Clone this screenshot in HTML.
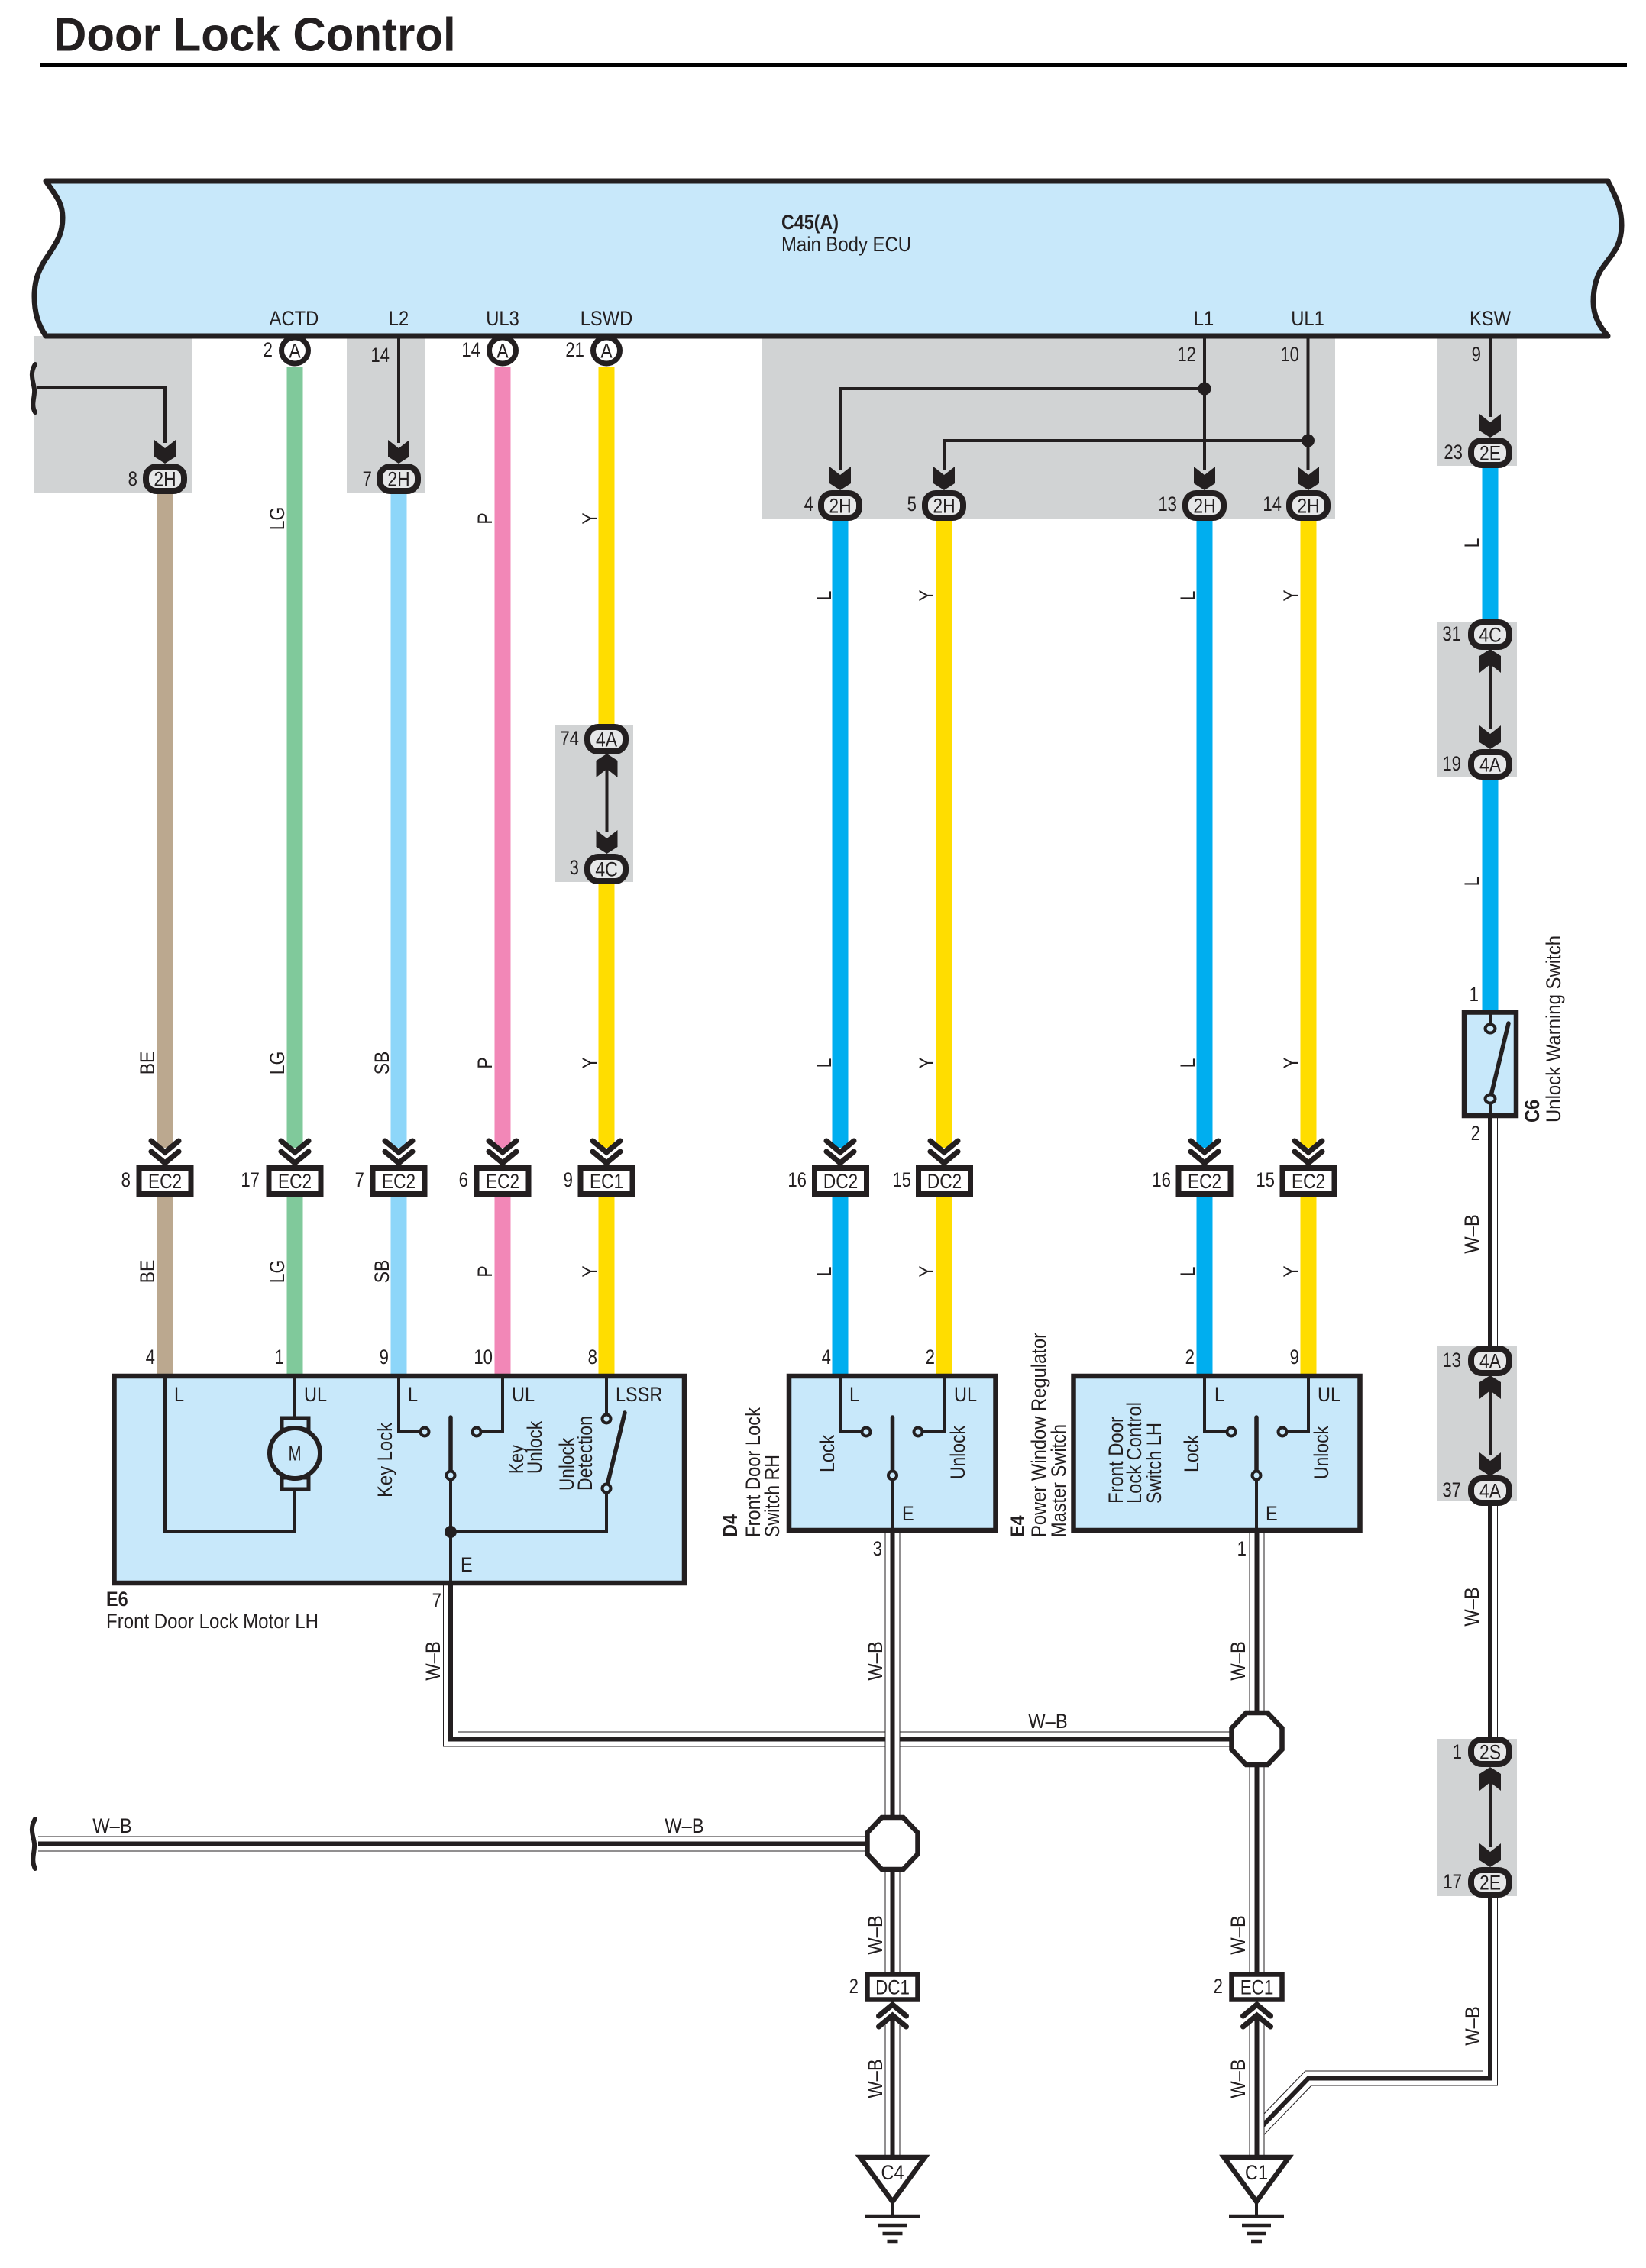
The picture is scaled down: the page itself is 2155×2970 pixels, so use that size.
<!DOCTYPE html>
<html><head><meta charset="utf-8"><title>Door Lock Control</title>
<style>
html,body{margin:0;padding:0;background:#fff}
svg{display:block}
text{font-family:"Liberation Sans",sans-serif;font-size:27px;fill:#231f20}
.c{text-anchor:middle}.e{text-anchor:end}.b{font-weight:bold}
.k{fill:none;stroke:#231f20;stroke-width:4}
.s{fill:none;stroke:#231f20;stroke-width:5.5}
.o{fill:none;stroke:#231f20;stroke-width:20}
.w{fill:none;stroke:#fff;stroke-width:18}
.m{fill:none;stroke:#231f20;stroke-width:6}
.box{fill:#c8e8fa;stroke:#231f20;stroke-width:6.5}
.pin{fill:#c8e8fa;stroke:#231f20;stroke-width:4}
.W{stroke-width:21;fill:none}
.g{fill:#d1d3d4}
</style></head><body>
<svg xmlns="http://www.w3.org/2000/svg" width="2155" height="2970" viewBox="0 0 2155 2970">
<defs>
<polygon id="ar" points="0,0 14,-9 14,-31 0,-20 -14,-31 -14,-9" fill="#231f20"/>
<rect id="ov" x="-25" y="-16" width="50" height="32" rx="14" fill="#e6e7e8" stroke="#231f20" stroke-width="8"/>
<rect id="ec" x="-34" y="-17" width="68" height="34" fill="#fff" stroke="#231f20" stroke-width="7"/>
<rect id="dc" x="-33" y="-16.5" width="66" height="33" fill="#fff" stroke="#231f20" stroke-width="6.5"/>
<g id="ch" fill="none" stroke="#231f20" stroke-width="7" stroke-linecap="round"><polyline points="-18,-32 0,-17 18,-32"/><polyline points="-18,-18 0,-3 18,-18"/></g>
<polygon id="oc" points="-14,-34 14,-34 33,-14 33,14 14,34 -14,34 -33,14 -33,-14" fill="#fff" stroke="#231f20" stroke-width="6.5"/>
<g id="gnd"><path d="M0,0V17" class="k"/><path d="M-36,17H36M-19,29H19M-13,40H13M-7,50H7" fill="none" stroke="#231f20" stroke-width="4.5"/></g>
</defs>

<text class="b" style="font-size:62px" transform="translate(70,66.5) scale(.968,1)">Door Lock Control</text>
<rect x="53" y="82" width="2077" height="6" fill="#000"/>

<!-- grey shaded boxes -->
<rect class="g" x="45" y="440" width="206" height="205"/>
<rect class="g" x="454" y="440" width="102" height="205"/>
<rect class="g" x="997" y="440" width="751" height="239"/>
<rect class="g" x="1882" y="440" width="104" height="170"/>
<rect class="g" x="726" y="950" width="103" height="205"/>
<rect class="g" x="1882" y="815" width="104" height="203"/>
<rect class="g" x="1882" y="1763" width="104" height="203"/>
<rect class="g" x="1882" y="2277" width="104" height="206"/>

<!-- ECU -->
<path d="M60,237H2105C2118,262 2123,275 2123,295C2123,325 2108,335 2095,355C2087,370 2086,385 2086,395C2086,415 2095,428 2105,440H60C50,425 45,410 45,388C45,365 52,350 64,333C76,315 82,305 82,285C82,265 72,255 60,237Z" fill="#c8e8fa" stroke="#231f20" stroke-width="7" stroke-linejoin="round"/>
<text class="b" x="1023" y="300" textLength="75" lengthAdjust="spacingAndGlyphs">C45(A)</text>
<text x="1023" y="329" textLength="170" lengthAdjust="spacingAndGlyphs">Main Body ECU</text>
<text class="c" transform="translate(385,426) scale(.88,1)">ACTD</text>
<text class="c" transform="translate(522,426) scale(.88,1)">L2</text>
<text class="c" transform="translate(658,426) scale(.88,1)">UL3</text>
<text class="c" transform="translate(794,426) scale(.88,1)">LSWD</text>
<text class="c" transform="translate(1576,426) scale(.88,1)">L1</text>
<text class="c" transform="translate(1712,426) scale(.88,1)">UL1</text>
<text class="c" transform="translate(1951,426) scale(.88,1)">KSW</text>

<!-- coloured wires -->
<path class="W" stroke="#bba88f" d="M216,647V1503M216,1567V1799"/>
<path class="W" stroke="#80c99b" d="M386,480V1503M386,1567V1799"/>
<path class="W" stroke="#8dd6f9" d="M522,647V1503M522,1567V1799"/>
<path class="W" stroke="#f287b7" d="M658,480V1503M658,1567V1799"/>
<path class="W" stroke="#ffdd00" d="M794,480V950M794,1158V1503M794,1567V1799"/>
<path class="W" stroke="#00aeef" d="M1100,682V1503M1100,1567V1799"/>
<path class="W" stroke="#ffdd00" d="M1236,682V1503M1236,1567V1799"/>
<path class="W" stroke="#00aeef" d="M1577,682V1503M1577,1567V1799"/>
<path class="W" stroke="#ffdd00" d="M1713,682V1503M1713,1567V1799"/>
<path class="W" stroke="#00aeef" d="M1951,613V812M1951,1021V1322"/>

<!-- thin black harness lines -->
<path class="k" d="M48,508H216V580"/>
<path d="M46,477C38,490 44,500 45,510C46,520 40,530 46,540" fill="none" stroke="#231f20" stroke-width="6" stroke-linecap="round"/>
<path class="k" d="M522,440V580"/>
<path class="k" d="M1577,440V615M1100,615V509H1577"/>
<path class="k" d="M1712.5,440V615M1236,615V577H1712.5"/>
<circle cx="1577" cy="509" r="8.5" fill="#231f20"/>
<circle cx="1712.5" cy="577" r="8.5" fill="#231f20"/>
<path class="k" d="M1951,440V546"/>
<path class="k" d="M794.5,990V1090M1951,853V955M1951,1804V1905M1951,2318V2419"/>

<use href="#ar" x="216" y="607"/><use href="#ar" x="522" y="607"/>
<use href="#ar" x="1100" y="642"/><use href="#ar" x="1236" y="642"/><use href="#ar" x="1577" y="642"/><use href="#ar" x="1713" y="642"/>
<use href="#ar" x="1951" y="573"/>
<use href="#ar" x="794.5" y="1118"/><use href="#ar" transform="translate(794.5,987) rotate(180)"/>
<use href="#ar" x="1951" y="981"/><use href="#ar" transform="translate(1951,850) rotate(180)"/>
<use href="#ar" x="1951" y="1933"/><use href="#ar" transform="translate(1951,1801) rotate(180)"/>
<use href="#ar" x="1951" y="2445"/><use href="#ar" transform="translate(1951,2314) rotate(180)"/>

<!-- A pins -->
<g fill="#fff" stroke="#231f20" stroke-width="7">
<ellipse cx="386" cy="459" rx="17.5" ry="17"/><ellipse cx="658" cy="459" rx="17.5" ry="17"/><ellipse cx="794" cy="459" rx="17.5" ry="17"/>
</g>
<text class="c" transform="translate(386,468.5) scale(.85,1)">A</text>
<text class="c" transform="translate(658,468.5) scale(.85,1)">A</text>
<text class="c" transform="translate(794,468.5) scale(.85,1)">A</text>
<text class="e" transform="translate(357,467) scale(.82,1)">2</text>
<text class="e" transform="translate(629,467) scale(.82,1)">14</text>
<text class="e" transform="translate(765,467) scale(.82,1)">21</text>
<text class="e" transform="translate(510,474) scale(.82,1)">14</text>
<text class="e" transform="translate(1566,473) scale(.82,1)">12</text>
<text class="e" transform="translate(1701,473) scale(.82,1)">10</text>
<text class="e" transform="translate(1939,473) scale(.82,1)">9</text>

<!-- ovals -->
<use href="#ov" x="216" y="627"/><use href="#ov" x="522" y="627"/>
<use href="#ov" x="1100" y="662"/><use href="#ov" x="1236" y="662"/><use href="#ov" x="1577" y="662"/><use href="#ov" x="1713" y="662"/>
<use href="#ov" x="1951" y="593"/>
<use href="#ov" x="794" y="968"/><use href="#ov" x="794" y="1138"/>
<use href="#ov" x="1951" y="831"/><use href="#ov" x="1951" y="1001"/>
<use href="#ov" x="1951" y="1782"/><use href="#ov" x="1951" y="1952"/>
<use href="#ov" x="1951" y="2294"/><use href="#ov" x="1951" y="2465"/>
<text class="c" transform="translate(216,636.5) scale(.85,1)">2H</text>
<text class="c" transform="translate(522,636.5) scale(.85,1)">2H</text>
<text class="c" transform="translate(1100,671.5) scale(.85,1)">2H</text>
<text class="c" transform="translate(1236,671.5) scale(.85,1)">2H</text>
<text class="c" transform="translate(1577,671.5) scale(.85,1)">2H</text>
<text class="c" transform="translate(1713,671.5) scale(.85,1)">2H</text>
<text class="c" transform="translate(1951,602.5) scale(.85,1)">2E</text>
<text class="c" transform="translate(794,977.5) scale(.85,1)">4A</text>
<text class="c" transform="translate(794,1147.5) scale(.85,1)">4C</text>
<text class="c" transform="translate(1951,840.5) scale(.85,1)">4C</text>
<text class="c" transform="translate(1951,1010.5) scale(.85,1)">4A</text>
<text class="c" transform="translate(1951,1791.5) scale(.85,1)">4A</text>
<text class="c" transform="translate(1951,1961.5) scale(.85,1)">4A</text>
<text class="c" transform="translate(1951,2303.5) scale(.85,1)">2S</text>
<text class="c" transform="translate(1951,2474.5) scale(.85,1)">2E</text>
<text class="e" transform="translate(180,636) scale(.82,1)">8</text>
<text class="e" transform="translate(487,636) scale(.82,1)">7</text>
<text class="e" transform="translate(1065,669) scale(.82,1)">4</text>
<text class="e" transform="translate(1200,669) scale(.82,1)">5</text>
<text class="e" transform="translate(1541,669) scale(.82,1)">13</text>
<text class="e" transform="translate(1678,669) scale(.82,1)">14</text>
<text class="e" transform="translate(1915,601) scale(.82,1)">23</text>
<text class="e" transform="translate(758,976) scale(.82,1)">74</text>
<text class="e" transform="translate(758,1145) scale(.82,1)">3</text>
<text class="e" transform="translate(1913,839) scale(.82,1)">31</text>
<text class="e" transform="translate(1913,1009) scale(.82,1)">19</text>
<text class="e" transform="translate(1913,1790) scale(.82,1)">13</text>
<text class="e" transform="translate(1913,1960) scale(.82,1)">37</text>
<text class="e" transform="translate(1914,2303) scale(.82,1)">1</text>
<text class="e" transform="translate(1914,2473) scale(.82,1)">17</text>

<!-- colour labels on wires -->
<g id="rot">
<text class="c" transform="translate(372,679) rotate(-90) scale(.85,1)">LG</text>
<text class="c" transform="translate(644,679) rotate(-90) scale(.85,1)">P</text>
<text class="c" transform="translate(781,679) rotate(-90) scale(.85,1)">Y</text>
<text class="c" transform="translate(1088,780) rotate(-90) scale(.85,1)">L</text>
<text class="c" transform="translate(1222,780) rotate(-90) scale(.85,1)">Y</text>
<text class="c" transform="translate(1564,780) rotate(-90) scale(.85,1)">L</text>
<text class="c" transform="translate(1699,780) rotate(-90) scale(.85,1)">Y</text>
<text class="c" transform="translate(1936,711) rotate(-90) scale(.85,1)">L</text>
<text class="c" transform="translate(1936,1154) rotate(-90) scale(.85,1)">L</text>
<text class="c" transform="translate(202,1392) rotate(-90) scale(.85,1)">BE</text>
<text class="c" transform="translate(372,1392) rotate(-90) scale(.85,1)">LG</text>
<text class="c" transform="translate(509,1392) rotate(-90) scale(.85,1)">SB</text>
<text class="c" transform="translate(644,1392) rotate(-90) scale(.85,1)">P</text>
<text class="c" transform="translate(781,1392) rotate(-90) scale(.85,1)">Y</text>
<text class="c" transform="translate(1088,1392) rotate(-90) scale(.85,1)">L</text>
<text class="c" transform="translate(1222,1392) rotate(-90) scale(.85,1)">Y</text>
<text class="c" transform="translate(1564,1392) rotate(-90) scale(.85,1)">L</text>
<text class="c" transform="translate(1699,1392) rotate(-90) scale(.85,1)">Y</text>
<text class="c" transform="translate(202,1665) rotate(-90) scale(.85,1)">BE</text>
<text class="c" transform="translate(372,1665) rotate(-90) scale(.85,1)">LG</text>
<text class="c" transform="translate(509,1665) rotate(-90) scale(.85,1)">SB</text>
<text class="c" transform="translate(644,1665) rotate(-90) scale(.85,1)">P</text>
<text class="c" transform="translate(781,1665) rotate(-90) scale(.85,1)">Y</text>
<text class="c" transform="translate(1088,1665) rotate(-90) scale(.85,1)">L</text>
<text class="c" transform="translate(1222,1665) rotate(-90) scale(.85,1)">Y</text>
<text class="c" transform="translate(1564,1665) rotate(-90) scale(.85,1)">L</text>
<text class="c" transform="translate(1699,1665) rotate(-90) scale(.85,1)">Y</text>
</g>

<!-- EC/DC connectors -->
<use href="#ch" x="216" y="1526"/><use href="#ch" x="386" y="1526"/><use href="#ch" x="522" y="1526"/><use href="#ch" x="658" y="1526"/><use href="#ch" x="794" y="1526"/>
<use href="#ch" x="1100" y="1526"/><use href="#ch" x="1236" y="1526"/><use href="#ch" x="1577" y="1526"/><use href="#ch" x="1713" y="1526"/>
<use href="#ec" x="216" y="1546.5"/><use href="#ec" x="386" y="1546.5"/><use href="#ec" x="522" y="1546.5"/><use href="#ec" x="658" y="1546.5"/><use href="#ec" x="794" y="1546.5"/>
<use href="#ec" x="1100.5" y="1546.5"/><use href="#ec" x="1236.5" y="1546.5"/><use href="#ec" x="1577" y="1546.5"/><use href="#ec" x="1713" y="1546.5"/>
<text class="c" transform="translate(216,1556) scale(.84,1)">EC2</text>
<text class="c" transform="translate(386,1556) scale(.84,1)">EC2</text>
<text class="c" transform="translate(522,1556) scale(.84,1)">EC2</text>
<text class="c" transform="translate(658,1556) scale(.84,1)">EC2</text>
<text class="c" transform="translate(794,1556) scale(.84,1)">EC1</text>
<text class="c" transform="translate(1100.5,1556) scale(.84,1)">DC2</text>
<text class="c" transform="translate(1236.5,1556) scale(.84,1)">DC2</text>
<text class="c" transform="translate(1577,1556) scale(.84,1)">EC2</text>
<text class="c" transform="translate(1713,1556) scale(.84,1)">EC2</text>
<text class="e" transform="translate(171,1554) scale(.82,1)">8</text>
<text class="e" transform="translate(340,1554) scale(.82,1)">17</text>
<text class="e" transform="translate(477,1554) scale(.82,1)">7</text>
<text class="e" transform="translate(613,1554) scale(.82,1)">6</text>
<text class="e" transform="translate(750,1554) scale(.82,1)">9</text>
<text class="e" transform="translate(1056,1554) scale(.82,1)">16</text>
<text class="e" transform="translate(1193,1554) scale(.82,1)">15</text>
<text class="e" transform="translate(1533,1554) scale(.82,1)">16</text>
<text class="e" transform="translate(1669,1554) scale(.82,1)">15</text>

<!-- W-B wires -->
<path class="o" d="M590,2076V2277.5H1620"/><path class="w" d="M590,2076V2277.5H1620"/><path class="m" d="M590,2076V2277.5H1620"/>
<path class="o" d="M1168.5,2007V2385M1168.5,2445V2582M1168.5,2650V2826"/><path class="w" d="M1168.5,2007V2385M1168.5,2445V2582M1168.5,2650V2826"/><path class="m" d="M1168.5,2007V2385M1168.5,2445V2582M1168.5,2637V2826"/>
<path class="o" d="M50,2414.5H1140"/><path class="w" d="M50,2414.5H1140"/><path class="m" d="M50,2414.5H1140"/>
<path d="M46,2382C38,2395 44,2405 45,2414C46,2425 40,2435 46,2447" fill="none" stroke="#231f20" stroke-width="6" stroke-linecap="round"/>
<path class="o" d="M1951,1464V1762M1951,1972V2275M1951,2485V2721.5H1713L1645,2792"/><path class="w" d="M1951,1464V1762M1951,1972V2275M1951,2485V2721.5H1713L1645,2792"/><path class="m" d="M1951,1464V1762M1951,1972V2275M1951,2485V2721.5H1713L1645,2792"/>
<path class="o" d="M1645.5,2007V2245M1645.5,2310V2582M1645.5,2650V2826"/><path class="w" d="M1645.5,2007V2245M1645.5,2310V2582M1645.5,2650V2826"/><path class="m" d="M1645.5,2007V2245M1645.5,2310V2582M1645.5,2637V2826"/>
<use href="#oc" x="1645.5" y="2277"/><use href="#oc" x="1168.5" y="2414"/>
<use href="#ch" transform="translate(1168.5,2622) rotate(180)"/>
<use href="#ch" transform="translate(1645.5,2622) rotate(180)"/>
<use href="#dc" x="1168.5" y="2602"/><use href="#dc" x="1645.5" y="2602"/>
<text class="c" transform="translate(1168.5,2611.5) scale(.83,1)">DC1</text>
<text class="c" transform="translate(1645.5,2611.5) scale(.83,1)">EC1</text>
<text class="e" transform="translate(1124,2610) scale(.82,1)">2</text>
<text class="e" transform="translate(1601,2610) scale(.82,1)">2</text>
<path d="M1126,2825H1211L1168.5,2883Z" fill="#fff" stroke="#231f20" stroke-width="6.5" stroke-linejoin="miter"/>
<path d="M1602.5,2825H1687.5L1645,2883Z" fill="#fff" stroke="#231f20" stroke-width="6.5" stroke-linejoin="miter"/>
<text class="c" transform="translate(1168.5,2854) scale(.87,1)">C4</text>
<text class="c" transform="translate(1645,2854) scale(.87,1)">C1</text>
<use href="#gnd" x="1168.5" y="2885"/><use href="#gnd" x="1645" y="2885"/>

<text class="c" transform="translate(147,2400) scale(.88,1)">W–B</text>
<text class="c" transform="translate(896,2400) scale(.88,1)">W–B</text>
<text class="c" transform="translate(1372,2263) scale(.88,1)">W–B</text>
<text class="c" transform="translate(576,2175) rotate(-90) scale(.88,1)">W–B</text>
<text class="c" transform="translate(1155,2175) rotate(-90) scale(.88,1)">W–B</text>
<text class="c" transform="translate(1630,2175) rotate(-90) scale(.88,1)">W–B</text>
<text class="c" transform="translate(1155,2534) rotate(-90) scale(.88,1)">W–B</text>
<text class="c" transform="translate(1630,2534) rotate(-90) scale(.88,1)">W–B</text>
<text class="c" transform="translate(1155,2722) rotate(-90) scale(.88,1)">W–B</text>
<text class="c" transform="translate(1630,2722) rotate(-90) scale(.88,1)">W–B</text>
<text class="c" transform="translate(1937,2653) rotate(-90) scale(.88,1)">W–B</text>
<text class="c" transform="translate(1936,1616) rotate(-90) scale(.88,1)">W–B</text>
<text class="c" transform="translate(1936,2104) rotate(-90) scale(.88,1)">W–B</text>

<!-- E6 -->
<rect class="box" x="149.5" y="1802" width="746.5" height="271"/>
<path class="k" d="M216,1802V2006H386V1950M386,1802V1856"/>
<rect x="369" y="1857" width="35" height="15" fill="#c8e8fa" stroke="#231f20" stroke-width="5"/>
<rect x="369" y="1935" width="35" height="15" fill="#c8e8fa" stroke="#231f20" stroke-width="5"/>
<circle cx="386" cy="1903" r="33" fill="#c8e8fa" stroke="#231f20" stroke-width="6"/>
<text class="c" transform="translate(386,1912.5) scale(.75,1)">M</text>
<path class="k" d="M522,1802V1875H550M658,1802V1875H630"/>
<circle class="pin" cx="556" cy="1875" r="5.5"/><circle class="pin" cx="624" cy="1875" r="5.5"/>
<path class="s" d="M590,1856V1926" stroke-linecap="round"/>
<path class="k" d="M590,1937V2076M590,2006H794V1955M794,1802V1852"/>
<circle class="pin" cx="590" cy="1932" r="5.5"/>
<circle cx="590" cy="2006" r="8" fill="#231f20"/>
<path class="s" d="M794,1949L818,1850" stroke-linecap="round"/>
<circle class="pin" cx="794" cy="1949" r="5.5"/><circle class="pin" cx="794" cy="1858" r="5.5"/>
<text transform="translate(228,1835) scale(.87,1)">L</text>
<text transform="translate(398,1835) scale(.87,1)">UL</text>
<text transform="translate(534,1835) scale(.87,1)">L</text>
<text transform="translate(670,1835) scale(.87,1)">UL</text>
<text transform="translate(806,1835) scale(.87,1)">LSSR</text>
<text transform="translate(603,2058) scale(.87,1)">E</text>
<text transform="translate(513,1961) rotate(-90)" textLength="98" lengthAdjust="spacingAndGlyphs">Key Lock</text>
<text transform="translate(685,1930) rotate(-90)" textLength="38" lengthAdjust="spacingAndGlyphs">Key</text>
<text transform="translate(709,1930) rotate(-90)" textLength="69" lengthAdjust="spacingAndGlyphs">Unlock</text>
<text transform="translate(751,1952) rotate(-90)" textLength="69" lengthAdjust="spacingAndGlyphs">Unlock</text>
<text transform="translate(775,1952) rotate(-90)" textLength="98" lengthAdjust="spacingAndGlyphs">Detection</text>
<text class="b" transform="translate(139,2103) scale(.87,1)">E6</text>
<text x="139" y="2132" textLength="278" lengthAdjust="spacingAndGlyphs">Front Door Lock Motor LH</text>
<text class="e" transform="translate(203,1786) scale(.82,1)">4</text>
<text class="e" transform="translate(372,1786) scale(.82,1)">1</text>
<text class="e" transform="translate(509,1786) scale(.82,1)">9</text>
<text class="e" transform="translate(645,1786) scale(.82,1)">10</text>
<text class="e" transform="translate(782,1786) scale(.82,1)">8</text>
<text class="e" transform="translate(578,2105) scale(.82,1)">7</text>

<!-- D4 -->
<rect class="box" x="1033" y="1802" width="270.5" height="202"/>
<path class="k" d="M1100,1802V1875H1128M1236,1802V1875H1208"/>
<circle class="pin" cx="1134" cy="1875" r="5.5"/><circle class="pin" cx="1202" cy="1875" r="5.5"/>
<path class="s" d="M1168.5,1856V1926" stroke-linecap="round"/><path class="k" d="M1168.5,1937V2006"/>
<circle class="pin" cx="1168.5" cy="1932" r="5.5"/>
<text transform="translate(1112,1835) scale(.87,1)">L</text>
<text transform="translate(1249,1835) scale(.87,1)">UL</text>
<text transform="translate(1181,1991) scale(.87,1)">E</text>
<text transform="translate(1092,1928) rotate(-90)" textLength="49" lengthAdjust="spacingAndGlyphs">Lock</text>
<text transform="translate(1263,1937) rotate(-90)" textLength="70" lengthAdjust="spacingAndGlyphs">Unlock</text>
<text class="b" transform="translate(965,2013) rotate(-90) scale(.87,1)">D4</text>
<text transform="translate(995,2013) rotate(-90)" textLength="170" lengthAdjust="spacingAndGlyphs">Front Door Lock</text>
<text transform="translate(1020,2013) rotate(-90)" textLength="108" lengthAdjust="spacingAndGlyphs">Switch RH</text>
<text class="e" transform="translate(1088,1786) scale(.82,1)">4</text>
<text class="e" transform="translate(1224,1786) scale(.82,1)">2</text>
<text class="e" transform="translate(1155,2037) scale(.82,1)">3</text>

<!-- E4 -->
<rect class="box" x="1405.5" y="1802" width="375" height="202"/>
<path class="k" d="M1577,1802V1875H1606M1713,1802V1875H1685"/>
<circle class="pin" cx="1612" cy="1875" r="5.5"/><circle class="pin" cx="1679" cy="1875" r="5.5"/>
<path class="s" d="M1645,1856V1926" stroke-linecap="round"/><path class="k" d="M1645,1937V2006"/>
<circle class="pin" cx="1645" cy="1932" r="5.5"/>
<text transform="translate(1590,1835) scale(.87,1)">L</text>
<text transform="translate(1725,1835) scale(.87,1)">UL</text>
<text transform="translate(1657,1991) scale(.87,1)">E</text>
<text transform="translate(1569,1928) rotate(-90)" textLength="49" lengthAdjust="spacingAndGlyphs">Lock</text>
<text transform="translate(1739,1937) rotate(-90)" textLength="70" lengthAdjust="spacingAndGlyphs">Unlock</text>
<text transform="translate(1470,1969) rotate(-90)" textLength="114" lengthAdjust="spacingAndGlyphs">Front Door</text>
<text transform="translate(1494,1969) rotate(-90)" textLength="133" lengthAdjust="spacingAndGlyphs">Lock Control</text>
<text transform="translate(1520,1969) rotate(-90)" textLength="106" lengthAdjust="spacingAndGlyphs">Switch LH</text>
<text class="b" transform="translate(1341,2013) rotate(-90) scale(.87,1)">E4</text>
<text transform="translate(1369,2013) rotate(-90)" textLength="268" lengthAdjust="spacingAndGlyphs">Power Window Regulator</text>
<text transform="translate(1395,2013) rotate(-90)" textLength="148" lengthAdjust="spacingAndGlyphs">Master Switch</text>
<text class="e" transform="translate(1564,1786) scale(.82,1)">2</text>
<text class="e" transform="translate(1701,1786) scale(.82,1)">9</text>
<text class="e" transform="translate(1632,2037) scale(.82,1)">1</text>

<!-- C6 -->
<rect class="box" x="1917" y="1325.5" width="68" height="135.5"/>
<path class="k" d="M1951,1325V1342"/>
<ellipse class="pin" cx="1951" cy="1347" rx="6.5" ry="5.5"/>
<path class="s" d="M1951,1439L1975,1340" stroke-linecap="round"/>
<path class="k" d="M1951,1444V1462"/>
<ellipse class="pin" cx="1951" cy="1439" rx="6.5" ry="5.5"/>
<text class="e" transform="translate(1936,1311) scale(.82,1)">1</text>
<text class="e" transform="translate(1938,1493) scale(.82,1)">2</text>
<text class="b" transform="translate(2015,1470) rotate(-90) scale(.87,1)">C6</text>
<text transform="translate(2043,1470) rotate(-90)" textLength="245" lengthAdjust="spacingAndGlyphs">Unlock Warning Switch</text>
</svg>
</body></html>
